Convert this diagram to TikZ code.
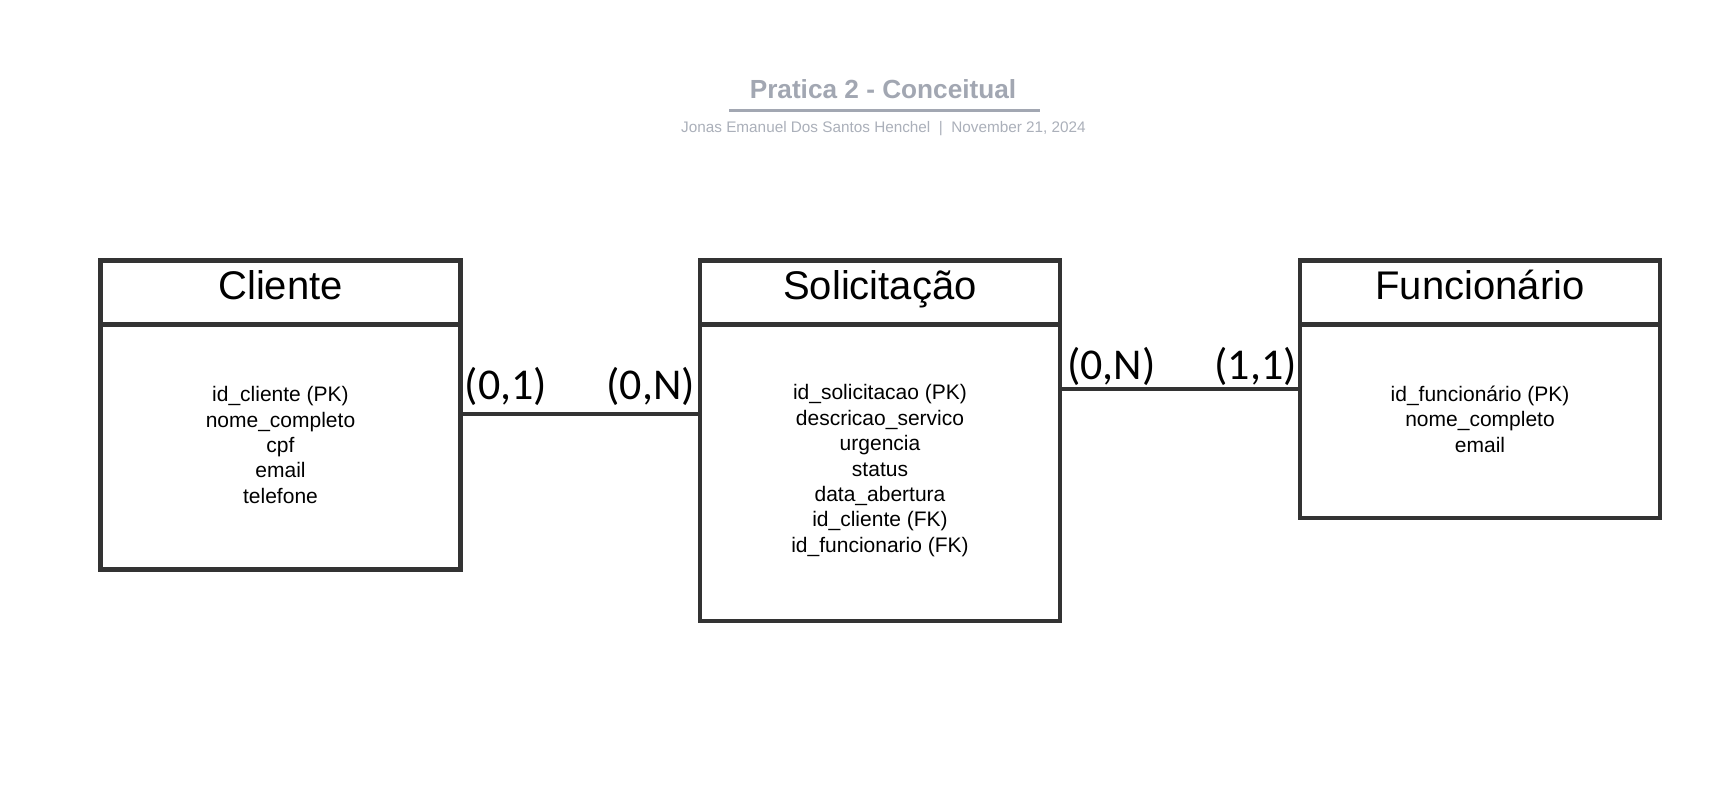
\documentclass[tikz,border=0pt]{standalone}
\usepackage{fontspec}
\setmainfont{Liberation Sans}
\newfontfamily\cardfont{Carlito}
\usetikzlibrary{positioning}
\definecolor{boxgray}{HTML}{333333}
\definecolor{titlegray}{HTML}{A2A7B2}

\begin{document}
\begin{tikzpicture}[x=1pt, y=-1pt]
\tikzstyle{entity}=[rectangle, draw=boxgray, line width=4.5pt, minimum width=360pt, inner sep=0pt, outer sep=0pt]
\tikzstyle{entity head}=[entity, minimum height=64pt, font=\fontsize{40}{48}\selectfont, text height=28pt, text depth=14pt]
\tikzstyle{entity body}=[entity]
\tikzstyle{attr}=[align=center, inner sep=0pt, font=\fontsize{21}{25.4}\selectfont]
\tikzstyle{link}=[draw=boxgray, line width=4.5pt]
\tikzstyle{card}=[font=\cardfont\fontsize{44}{52}\selectfont, inner sep=0pt]

\fill[white] (0,0) rectangle (1733,808);
\useasboundingbox (0,0) rectangle (1733,808);

% Title block
\node[font=\bfseries\fontsize{26.2}{31}\selectfont, text=titlegray, anchor=base] (title) at (883,98.3) {Pratica 2 - Conceitual};
\draw[titlegray, line width=2.5pt] (729,110.7) -- (1040,110.7);
\node[font=\fontsize{15.3}{18}\selectfont, text=titlegray!90, anchor=base] (subtitle) at (883.5,132.7) {Jonas Emanuel Dos Santos Henchel\ \ |\ \ November 21, 2024};

% Draw the entities
\node[entity head] (clihead) at (280.5,292.5) {Cliente};
\node[entity body, minimum height=245pt, below=0pt of clihead] (clibody) {};
\node[attr, yshift=2pt] (cliattr) at (clibody) {id\_cliente (PK)\\nome\_completo\\cpf\\email\\telefone};

\node[entity head] (solhead) at (880,292.5) {Solicitação};
\node[entity body, minimum height=296.5pt, below=0pt of solhead] (solbody) {};
\node[attr, yshift=2pt] (solattr) at (solbody) {id\_solicitacao (PK)\\descricao\_servico\\urgencia\\status\\data\_abertura\\id\_cliente (FK)\\id\_funcionario (FK)};

\node[entity head] (funhead) at (1480,292.5) {Funcionário};
\node[entity body, minimum height=193.5pt, below=0pt of funhead] (funbody) {};
\node[attr, yshift=2pt] (funattr) at (funbody) {id\_funcionário (PK)\\nome\_completo\\email};

% Relationships
\draw[link] ([yshift=33pt]clibody.east) coordinate (l1) -- (l1 -| solbody.west)
    node[card, at start, anchor=base west, xshift=2pt, yshift=14.5pt] (c1) {(0,1)}
    node[card, at end, anchor=base east, xshift=-3pt, yshift=14.5pt] (c2) {(0,N)};
\draw[link] ([yshift=83.75pt]solbody.east) coordinate (l2) -- (l2 -| funbody.west)
    node[card, at start, anchor=base west, xshift=5pt, yshift=10pt] (c3) {(0,N)}
    node[card, at end, anchor=base east, xshift=-1pt, yshift=10pt] (c4) {(1,1)};

\end{tikzpicture}
\end{document}
